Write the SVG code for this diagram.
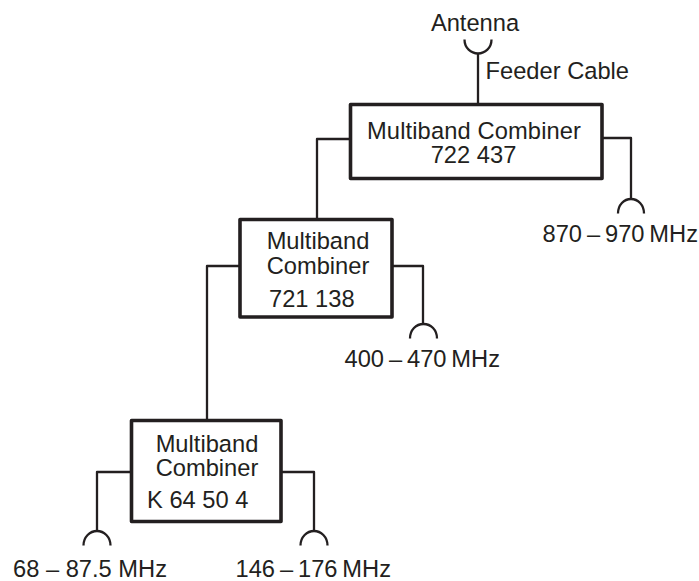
<svg xmlns="http://www.w3.org/2000/svg" width="699" height="581" viewBox="0 0 699 581">
<style>
text{font-family:"Liberation Sans",Arial,sans-serif;font-size:23.7px;fill:#231f20}
.box{fill:#fff;stroke:#231f20;stroke-width:3.6;stroke-linejoin:round}
.line{fill:none;stroke:#231f20;stroke-width:2.3;stroke-linejoin:round}
.m{text-anchor:middle}
.band{word-spacing:-1.7px}
</style>
<rect width="699" height="581" fill="#fff"/>
<g id="connectors">
<path class="line" d="M478 54V104"/>
<path class="line" d="M464.500 39.500C464.500 48 471 53.500 478 53.500C485 53.500 491.500 48 491.500 39.500"/>
<path class="line" d="M602 138H631V199"/>
<path class="line" d="M618 213.500C618 205 624 199 631 199C638 199 644 205 644 213.500"/>
<path class="line" d="M349 139H317V219"/>
<path class="line" d="M392 266H423V324"/>
<path class="line" d="M410 338.500C410 330 416 324 423.500 324C431 324 437 330 437 338.500"/>
<path class="line" d="M239 266H207V420"/>
<path class="line" d="M130 472H97V531"/>
<path class="line" d="M83.500 545.500C83.500 537 90 531 97 531C104 531 110.500 537 110.500 545.500"/>
<path class="line" d="M281 472H314V531"/>
<path class="line" d="M300.500 545.500C300.500 537 307 531 314 531C321 531 327.500 537 327.500 545.500"/>
</g>
<g id="antenna"><text class="m" x="475" y="31">Antenna</text></g>
<g id="feeder"><text x="485.500" y="79">Feeder Cable</text></g>
<g id="combiner-722437">
<rect class="box" x="350.500" y="104.500" width="251.500" height="74"/>
<text class="m" x="474" y="138.700" textLength="214" lengthAdjust="spacing">Multiband Combiner</text>
<text class="m" x="473.500" y="162.700">722 437</text>
</g>
<g id="combiner-721138">
<rect class="box" x="240" y="219.500" width="152" height="97.500"/>
<text class="m" x="318" y="249.300">Multiband</text>
<text class="m" x="318" y="274">Combiner</text>
<text x="269" y="306.700">721 138</text>
</g>
<g id="combiner-k64504">
<rect class="box" x="131.500" y="420.500" width="149.500" height="101"/>
<text class="m" x="207" y="451.700">Multiband</text>
<text class="m" x="207" y="476">Combiner</text>
<text x="147" y="507.700">K 64 50 4</text>
</g>
<g id="band-870"><text class="band" x="542.500" y="241.700">870 – 970 MHz</text></g>
<g id="band-400"><text class="band" x="344.500" y="367">400 – 470 MHz</text></g>
<g id="band-68"><text x="13" y="577.300">68 – 87.5 MHz</text></g>
<g id="band-146"><text class="band" x="235.500" y="577.300">146 – 176 MHz</text></g>
</svg>
